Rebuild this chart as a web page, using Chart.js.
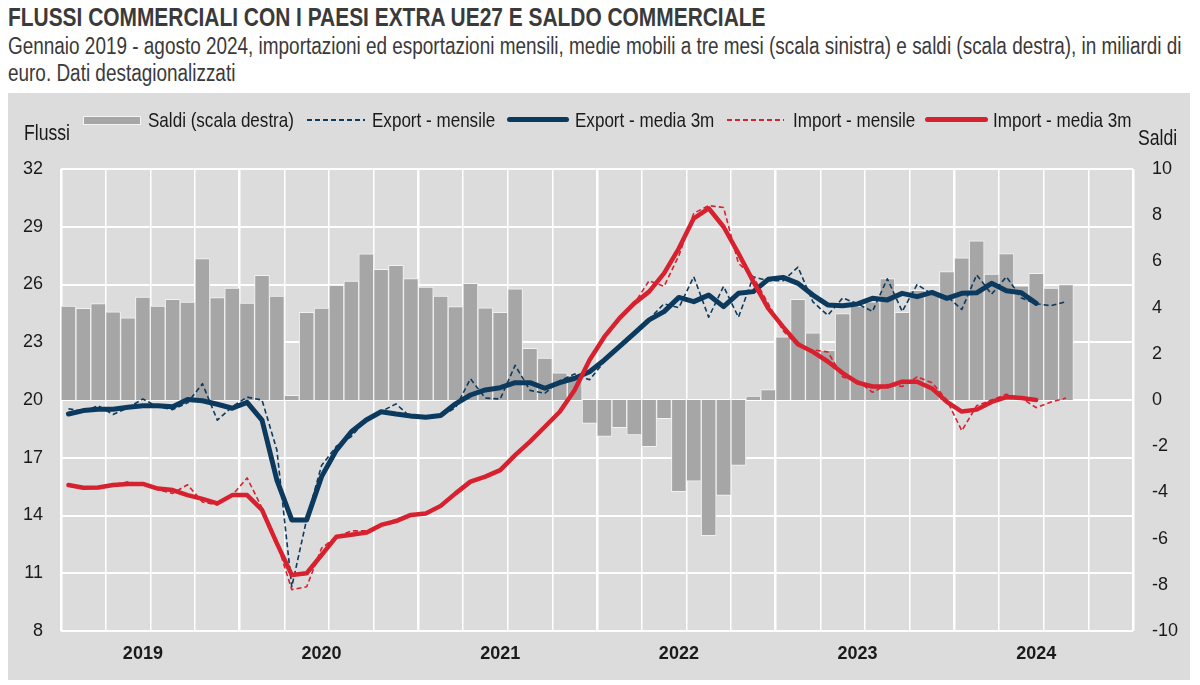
<!DOCTYPE html>
<html lang="it">
<head>
<meta charset="utf-8">
<script src="https://cdn.jsdelivr.net/npm/chart.js@4.4.1/dist/chart.umd.min.js"></script>
<style>
  body { margin: 0; background: #ffffff; }
  #wrap { position: relative; width: 1200px; height: 685px; overflow: hidden;
          font-family: 'Liberation Sans', Arial, sans-serif; color: #1a1a1a; }
  /* testo "narrow": Liberation Sans compresso orizzontalmente */
  .nar { position: absolute; white-space: nowrap; transform: scaleX(0.82); transform-origin: 0 0; }
  #titolo { left: 8px; top: 3px; font-size: 25.5px; line-height: 29px; font-weight: bold; color: #3a3a3a; }
  #sottotitolo { left: 8px; top: 33px; font-size: 23.1px; line-height: 27px; color: #3a3a3a; }
  #pannello { position: absolute; left: 8px; top: 93px; width: 1182px; height: 587px; background: #dcdcdc; }
  canvas { position: absolute; left: 0; top: 0; }
  .lab { font-size: 20.8px; line-height: 20px; }
  .sw { position: absolute; }
</style>
</head>
<body>
<div id="wrap">
  <div id="pannello"><canvas id="grafico" width="1182" height="587"></canvas></div>
  <div id="titolo" class="nar">FLUSSI COMMERCIALI CON I PAESI EXTRA UE27 E SALDO COMMERCIALE</div>
  <div id="sottotitolo" class="nar">Gennaio 2019 - agosto 2024, importazioni ed esportazioni mensili, medie mobili a tre mesi (scala sinistra) e saldi (scala destra), in miliardi di<br>euro. Dati destagionalizzati</div>

  <!-- legenda -->
  <div class="sw" style="left:83px;top:116px;width:56px;height:7px;background:#a6a6a6;border:1px solid #f4f4f4;"></div>
  <div class="lab nar" style="left:148px;top:110px;">Saldi (scala destra)</div>
  <div class="sw" style="left:307px;top:119px;width:58px;height:2px;background:repeating-linear-gradient(to right,#0b3a5e 0 5px,transparent 5px 8px);"></div>
  <div class="lab nar" style="left:372px;top:110px;">Export - mensile</div>
  <div class="sw" style="left:507px;top:117px;width:62px;height:5px;border-radius:3px;background:#0b3a5e;"></div>
  <div class="lab nar" style="left:575px;top:110px;">Export - media 3m</div>
  <div class="sw" style="left:727px;top:119px;width:57px;height:2px;background:repeating-linear-gradient(to right,#d7212e 0 5px,transparent 5px 8px);"></div>
  <div class="lab nar" style="left:793px;top:110px;">Import - mensile</div>
  <div class="sw" style="left:925px;top:117px;width:63px;height:5px;border-radius:3px;background:#d7212e;"></div>
  <div class="lab nar" style="left:993px;top:110px;">Import - media 3m</div>

  <div class="lab nar" style="left:24px;top:123px;font-size:21.5px;">Flussi</div>
  <div class="lab nar" style="left:1138px;top:128px;font-size:21.5px;">Saldi</div>
</div>

<script>
// categorie: mesi da gennaio 2019 a dicembre 2024 (dati fino ad agosto 2024)
const anni = ['2019', '2020', '2021', '2022', '2023', '2024'];
const mesi = ['gen', 'feb', 'mar', 'apr', 'mag', 'giu', 'lug', 'ago', 'set', 'ott', 'nov', 'dic'];
const etichette = [];
anni.forEach(a => mesi.forEach(m => etichette.push(m + ' ' + a)));

// saldi commerciali, miliardi di euro (scala destra)
const saldi = [
  4.07, 3.97, 4.17, 3.82, 3.56, 4.46, 4.07, 4.36, 4.24, 6.12, 4.43, 4.85,
  4.20, 5.40, 4.50, 0.20, 3.79, 3.98, 4.96, 5.15, 6.33, 5.66, 5.83, 5.26,
  4.89, 4.50, 4.04, 5.05, 3.99, 3.79, 4.81, 2.24, 1.81, 1.18, 1.06, -1.01,
  -1.58, -1.20, -1.51, -2.02, -0.81, -3.97, -3.51, -5.87, -4.13, -2.83, 0.17, 0.45,
  2.73, 4.36, 2.91, 2.15, 3.74, 4.05, 4.25, 5.26, 3.79, 4.75, 4.65, 5.56,
  6.15, 6.89, 5.45, 6.34, 4.94, 5.48, 4.85, 5.00
];

// esportazioni mensili (scala sinistra)
const exportMensile = [
  19.55, 19.40, 19.70, 19.25, 19.60, 20.05, 19.65, 19.50, 19.85, 20.85, 18.95, 19.65,
  20.15, 20.00, 17.40, 10.30, 13.80, 16.60, 17.60, 18.10, 19.00, 19.40, 19.80, 19.10,
  19.10, 19.15, 19.60, 21.10, 20.10, 20.05, 21.80, 20.50, 20.35, 21.00, 21.35, 21.05,
  22.00, 22.80, 23.50, 24.20, 25.00, 24.80, 26.40, 24.30, 25.90, 24.30, 26.40, 26.20,
  26.20, 26.90, 25.10, 24.40, 25.30, 25.00, 24.60, 26.30, 24.60, 26.00, 25.50, 25.40,
  24.70, 26.50, 25.50, 26.40, 25.30, 25.00, 24.90, 25.10
];

// esportazioni, media mobile a tre mesi
const exportMedia = [
  19.27, 19.45, 19.52, 19.52, 19.62, 19.70, 19.70, 19.65, 20.03, 19.96, 19.78, 19.57,
  19.88, 18.96, 15.84, 13.77, 13.77, 16.02, 17.40, 18.35, 18.96, 19.39, 19.27, 19.17,
  19.10, 19.20, 19.80, 20.26, 20.52, 20.64, 20.90, 20.90, 20.61, 20.90, 21.13, 21.47,
  22.08, 22.77, 23.46, 24.16, 24.59, 25.33, 25.11, 25.45, 24.85, 25.54, 25.63, 26.27,
  26.37, 26.06, 25.45, 24.94, 24.90, 24.99, 25.28, 25.20, 25.54, 25.37, 25.59, 25.28,
  25.54, 25.57, 26.06, 25.68, 25.57, 25.02
];

// importazioni mensili (scala sinistra)
const importMensile = [
  15.60, 15.45, 15.40, 15.60, 15.75, 15.60, 15.35, 15.15, 15.60, 14.70, 14.55, 15.05,
  15.95, 14.40, 12.60, 10.15, 10.30, 12.30, 12.90, 13.20, 13.20, 13.50, 13.80, 14.05,
  14.10, 14.50, 15.20, 15.80, 16.00, 16.40, 17.10, 17.80, 18.60, 19.40, 20.50, 22.10,
  23.30, 24.20, 25.00, 26.20, 25.90, 27.50, 29.70, 30.10, 30.00, 27.10, 26.40, 25.00,
  23.60, 22.80, 22.60, 22.50, 21.20, 21.00, 20.40, 20.80, 20.70, 21.20, 20.90, 20.00,
  18.40, 19.70, 20.00, 20.30, 20.10, 19.60, 19.90, 20.10
];

// importazioni, media mobile a tre mesi
const importMedia = [
  15.58, 15.44, 15.45, 15.58, 15.64, 15.64, 15.40, 15.32, 15.06, 14.86, 14.63, 15.06,
  15.06, 14.29, 12.55, 10.91, 11.00, 11.95, 12.90, 13.00, 13.11, 13.51, 13.71, 14.03,
  14.10, 14.50, 15.15, 15.76, 16.02, 16.36, 17.14, 17.84, 18.61, 19.39, 20.52, 22.08,
  23.29, 24.24, 25.02, 25.63, 26.58, 27.88, 29.44, 29.96, 29.00, 27.62, 26.15, 24.76,
  23.80, 22.90, 22.50, 22.00, 21.40, 20.90, 20.70, 20.70, 20.95, 20.95, 20.60, 19.90,
  19.40, 19.50, 19.90, 20.15, 20.10, 20.00
];

const tickSinistra = [8, 11, 14, 17, 20, 23, 26, 29, 32];
const tickDestra = [-10, -8, -6, -4, -2, 0, 2, 4, 6, 8, 10];

const BLU = '#0b3a5e';
const ROSSO = '#d7212e';

Chart.defaults.font.family = "'Liberation Sans', Arial, sans-serif";
Chart.defaults.color = '#1a1a1a';

function linea(label, data, colore, spessore, tratteggio, ordine) {
  return {
    type: 'line',
    label: label,
    data: data,
    yAxisID: 'y',
    borderColor: colore,
    backgroundColor: colore,
    borderWidth: spessore,
    borderDash: tratteggio,
    borderCapStyle: tratteggio.length ? 'butt' : 'round',
    borderJoinStyle: 'round',
    pointRadius: 0,
    tension: 0,
    fill: false,
    order: ordine
  };
}

new Chart(document.getElementById('grafico'), {
  type: 'bar',
  data: {
    labels: etichette,
    datasets: [
      linea('Import - media 3m', importMedia, ROSSO, 4.5, [], 1),
      linea('Import - mensile', importMensile, ROSSO, 1.6, [5, 3], 2),
      linea('Export - media 3m', exportMedia, BLU, 5, [], 3),
      linea('Export - mensile', exportMensile, BLU, 1.6, [5, 3], 4),
      {
        type: 'bar',
        label: 'Saldi (scala destra)',
        data: saldi,
        yAxisID: 'y2',
        backgroundColor: '#a6a6a6',
        borderColor: '#f2f2f2',
        borderWidth: 1,
        barPercentage: 1,
        categoryPercentage: 1,
        order: 5
      }
    ]
  },
  options: {
    responsive: false,
    animation: false,
    layout: { padding: { top: 76, left: 0, right: 0, bottom: 0 } },
    plugins: {
      legend: { display: false },
      tooltip: { enabled: false }
    },
    scales: {
      x: {
        offset: true,
        border: { display: false },
        grid: {
          offset: true,
          drawTicks: false,
          color: ctx => {
            const i = ctx.index === undefined ? etichette.length : ctx.index;
            return i % 3 === 0 ? '#ffffff' : 'rgba(0,0,0,0)';
          },
          lineWidth: ctx => {
            const i = ctx.index === undefined ? etichette.length : ctx.index;
            return i % 12 === 0 ? 2.5 : 1.5;
          }
        },
        ticks: {
          autoSkip: false,
          maxRotation: 0,
          padding: 12,
          font: { size: 18, weight: 'bold' },
          callback: (v, i) => (i % 12 === 5 ? anni[Math.floor(i / 12)] : '')
        },
        afterFit: s => { s.height = 49; }
      },
      y: {
        position: 'left',
        min: 8,
        max: 32,
        border: { display: false },
        grid: { color: '#ffffff', lineWidth: 2, drawTicks: false },
        afterBuildTicks: s => { s.ticks = tickSinistra.map(v => ({ value: v })); },
        ticks: { padding: 18, font: { size: 18 } },
        afterFit: s => { s.width = 53; }
      },
      y2: {
        position: 'right',
        min: -10,
        max: 10,
        border: { display: false },
        grid: { display: false, drawTicks: false },
        afterBuildTicks: s => { s.ticks = tickDestra.map(v => ({ value: v })); },
        ticks: { padding: 19, font: { size: 18 } },
        afterFit: s => { s.width = 57; }
      }
    }
  }
});
</script>
</body>
</html>
